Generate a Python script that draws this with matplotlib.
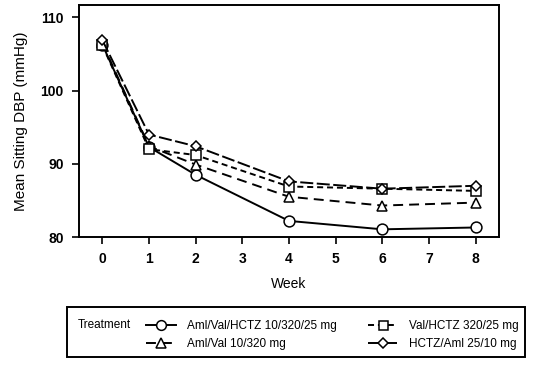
import matplotlib
matplotlib.use("Agg")
import matplotlib.pyplot as plt
from matplotlib.patches import Rectangle

plt.rcParams['font.family'] = ['Liberation Sans', 'DejaVu Sans']

weeks = [0, 1, 2, 4, 6, 8]
triple = [106.3, 92.3, 88.5, 82.2, 81.05, 81.3]
aml_val = [106.5, 92.4, 89.9, 85.5, 84.3, 84.7]
val_hctz = [106.2, 92.0, 91.2, 86.9, 86.6, 86.3]
hctz_aml = [106.9, 94.0, 92.4, 87.6, 86.6, 87.0]
labels = ["Aml/Val/HCTZ 10/320/25 mg", "Aml/Val 10/320 mg",
          "Val/HCTZ 320/25 mg", "HCTZ/Aml 25/10 mg"]
xticks = list(range(0, 9))
yticks = [80, 90, 100, 110]

fig = plt.figure(figsize=(5.51, 3.74), dpi=100)
ax = fig.add_axes([0.1434, 0.3663, 0.762, 0.6203])

common = dict(color='black', lw=1.4, mfc='white', mec='black', mew=1.1)
h1, = ax.plot(weeks, triple, marker='o', ms=7.8, ls='-', label=labels[0], **common)
h2, = ax.plot(weeks, aml_val, marker='^', ms=7.8, ls=(0, (5.1, 3.1)), label=labels[1], **common)
h3, = ax.plot(weeks, val_hctz, marker='s', ms=7.2, ls=(0, (3.1, 2.0)), label=labels[2], **common)
h4, = ax.plot(weeks, hctz_aml, marker='D', ms=5.6, ls=(0, (6.7, 1.8)), label=labels[3], **common)

ax.set_xlim(-0.5, 8.5)
ax.set_ylim(80, 111.7)
ax.set_xticks(xticks)
ax.set_yticks(yticks)
for lab in ax.get_xticklabels() + ax.get_yticklabels():
    lab.set_fontweight('bold')
    lab.set_fontsize(10)
ax.tick_params(direction='out', length=5, width=1.2, pad=6)
for s in ax.spines.values():
    s.set_linewidth(1.4)
ax.set_xlabel("Week", fontsize=10, labelpad=8)
ax.set_ylabel("Mean Sitting DBP (mmHg)", fontsize=11, labelpad=9)

# legend box
fig.patches.append(Rectangle((67/551, 1-357/374), (525-67)/551, 50/374,
                             transform=fig.transFigure, fill=False,
                             edgecolor='black', lw=1.4))
fig.text(78/551, 1-324.5/374, "Treatment", fontsize=8.5, va='center', ha='left')
fig.legend(handles=[h1, h2, h3, h4], ncol=2, frameon=False, fontsize=8.5,
           loc='center left', bbox_to_anchor=(146/551, 1-335/374),
           handlelength=2.5, handletextpad=1.0, columnspacing=2.6,
           labelspacing=0.55, borderaxespad=0, borderpad=0, markerscale=0.9)

fig.savefig("out.png", dpi=100)
